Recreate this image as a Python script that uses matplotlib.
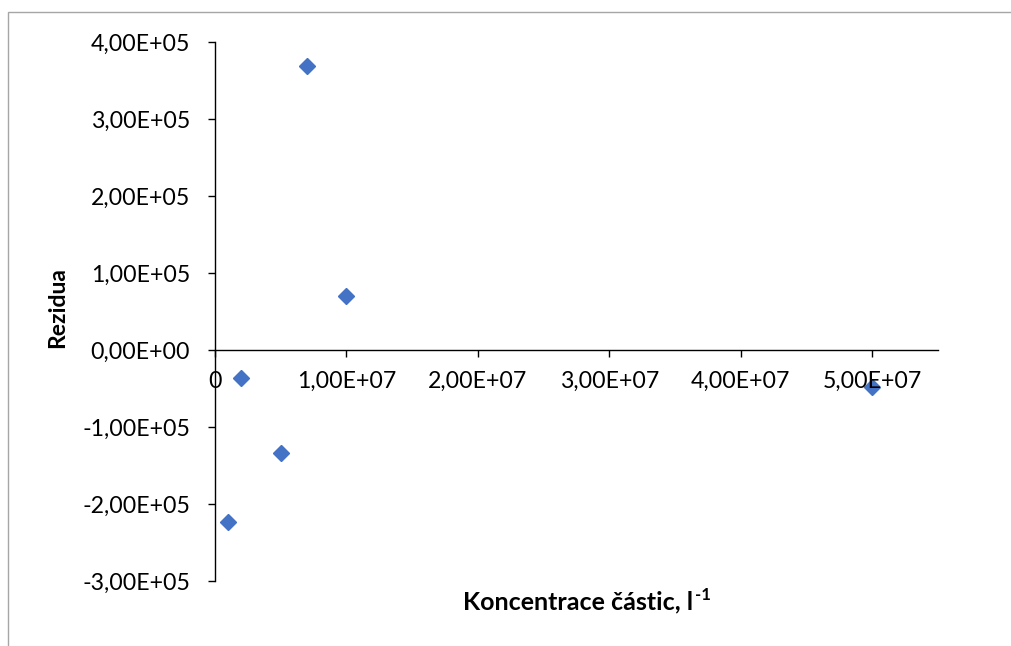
import matplotlib
matplotlib.use("Agg")
import matplotlib.pyplot as plt
from matplotlib.patches import Rectangle

# koncentrace castic [1/l] a rezidua kalibrace
koncentrace = [1.0e6, 2.0e6, 5.0e6, 7.0e6, 1.0e7, 5.0e7]
rezidua = [-2.23e5, -0.36e5, -1.34e5, 3.69e5, 0.70e5, -0.48e5]

x_ticks = [0, 1e7, 2e7, 3e7, 4e7, 5e7]
x_labels = ["0", "1,00E+07", "2,00E+07", "3,00E+07", "4,00E+07", "5,00E+07"]
y_ticks = [-3e5, -2e5, -1e5, 0, 1e5, 2e5, 3e5, 4e5]
y_labels = ["-3,00E+05", "-2,00E+05", "-1,00E+05", "0,00E+00",
            "1,00E+05", "2,00E+05", "3,00E+05", "4,00E+05"]

plt.rcParams['font.family'] = ['Lato', 'DejaVu Sans']
W, H = 1011, 646
fig = plt.figure(figsize=(W / 100, H / 100), dpi=100)
ax = fig.add_axes([215 / W, 1 - 581 / H, (938 - 215) / W, (581 - 42) / H])

ax.plot(koncentrace, rezidua, linestyle="none", marker="D", markersize=8.3,
        color="#4472C4", zorder=1)

ax.set_xlim(0, 5.5e7)
ax.set_ylim(-3e5, 4e5)
ax.set_xticks(x_ticks)
ax.set_xticklabels(x_labels)
ax.set_yticks(y_ticks)
ax.set_yticklabels(y_labels)

ax.spines['top'].set_visible(False)
ax.spines['right'].set_visible(False)
ax.spines['bottom'].set_position(('data', 0))
for s in ('left', 'bottom'):
    ax.spines[s].set_linewidth(1.0)
    ax.spines[s].set_color("#000000")
ax.tick_params(axis='both', labelsize=16.7, width=1.0, length=5, color="#000000")
ax.tick_params(axis='x', direction='out', pad=10)
ax.tick_params(axis='y', direction='out', pad=13)

# popisky os
fig.text(58 / W, 1 - 308 / H, "Rezidua", rotation=90, ha='center', va='center',
         fontsize=16.5, fontweight='bold')

# popisek x s exponentem -1, cely vycentrovany kolem x = 587 px
hlavni = fig.text(0, 1 - 609 / H, "Koncentrace částic, l", ha='left', va='baseline',
                  fontsize=18, fontweight='bold')
expo = fig.text(0, 1 - 600 / H, "-1", ha='left', va='baseline',
                fontsize=12, fontweight='bold')
fig.canvas.draw()
r = fig.canvas.get_renderer()
w1 = hlavni.get_window_extent(r).width
w2 = expo.get_window_extent(r).width
x0 = 587 - (w1 + 2 + w2) / 2
hlavni.set_x(x0 / W)
expo.set_x((x0 + w1 + 2) / W)

# ramecek grafu
fig.patches.append(Rectangle((7.5 / W, -0.1), 1.2, 1 - 11.5 / H + 0.1,
                             transform=fig.transFigure, fill=False,
                             edgecolor="#A6A6A6", linewidth=1.0))

fig.savefig("out.png", dpi=100)
